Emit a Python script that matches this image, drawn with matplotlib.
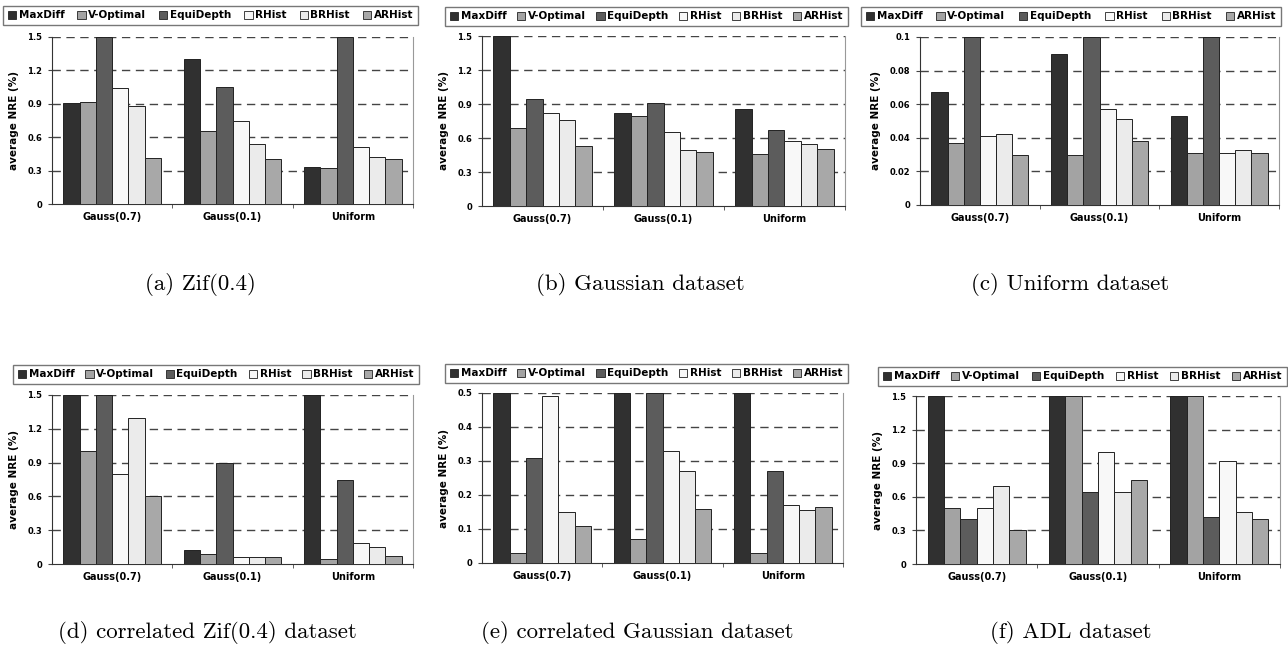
import numpy as np
import matplotlib.pyplot as plt
from matplotlib.patches import Patch

W, H = 1288, 657

methods = ["MaxDiff", "V-Optimal", "EquiDepth", "RHist", "BRHist", "ARHist"]
colors = ["#303030", "#a3a3a3", "#5c5c5c", "#f8f8f8", "#ebebeb", "#a8a8a8"]
categories = ["Gauss(0.7)", "Gauss(0.1)", "Uniform"]

# values per panel: rows = categories, cols = methods (bars above ymax are clipped)
zif = [[0.91, 0.92, 1.5, 1.04, 0.88, 0.41],
       [1.30, 0.66, 1.05, 0.75, 0.54, 0.40],
       [0.33, 0.32, 1.5, 0.51, 0.42, 0.40]]
gaussian = [[1.5, 0.69, 0.94, 0.82, 0.76, 0.53],
            [0.82, 0.79, 0.91, 0.65, 0.49, 0.48],
            [0.86, 0.46, 0.67, 0.57, 0.55, 0.50]]
uniform = [[0.067, 0.037, 0.1, 0.041, 0.042, 0.030],
           [0.090, 0.030, 0.1, 0.057, 0.051, 0.038],
           [0.053, 0.031, 0.1, 0.031, 0.033, 0.031]]
corr_zif = [[1.5, 1.0, 1.5, 0.80, 1.30, 0.60],
            [0.12, 0.09, 0.90, 0.06, 0.06, 0.06],
            [1.5, 0.04, 0.75, 0.19, 0.15, 0.07]]
corr_gauss = [[0.5, 0.03, 0.31, 0.49, 0.15, 0.11],
              [0.5, 0.07, 0.5, 0.33, 0.27, 0.16],
              [0.5, 0.03, 0.27, 0.17, 0.155, 0.165]]
adl = [[1.5, 0.50, 0.40, 0.50, 0.70, 0.30],
       [1.5, 1.5, 0.64, 1.0, 0.64, 0.75],
       [1.5, 1.5, 0.42, 0.92, 0.46, 0.40]]

yticks_15 = [0, 0.3, 0.6, 0.9, 1.2, 1.5]
yticks_01 = [0, 0.02, 0.04, 0.06, 0.08, 0.1]
yticks_05 = [0, 0.1, 0.2, 0.3, 0.4, 0.5]
ytl_15 = ["0", "0.3", "0.6", "0.9", "1.2", "1.5"]
ytl_01 = ["0", "0.02", "0.04", "0.06", "0.08", "0.1"]
ytl_05 = ["0", "0.1", "0.2", "0.3", "0.4", "0.5"]

# (data, yticks, ticklabels, axes px box [left, top, right, bottom], legend px box, caption, caption px pos)
panels = [
    (zif, yticks_15, ytl_15, (52, 37, 413, 204), (3, 2, 418, 25),
     "(a) Zif(0.4)", (200, 284)),
    (gaussian, yticks_15, ytl_15, (482, 36, 845, 206), (445, 1, 848, 26),
     "(b) Gaussian dataset", (640, 284)),
    (uniform, yticks_01, ytl_01, (920, 37, 1279, 205), (861, 1, 1281, 26),
     "(c) Uniform dataset", (1070, 284)),
    (corr_zif, yticks_15, ytl_15, (52, 395, 413, 564), (13, 358, 419, 384),
     "(d) correlated Zif(0.4) dataset", (207, 633)),
    (corr_gauss, yticks_05, ytl_05, (482, 393, 843, 563), (445, 356, 848, 383),
     "(e) correlated Gaussian dataset", (637, 633)),
    (adl, yticks_15, ytl_15, (916, 396, 1280, 564), (878, 358, 1287, 386),
     "(f) ADL dataset", (1071, 633)),
]

fig = plt.figure(figsize=(W / 100, H / 100), dpi=100)

x = np.arange(len(categories))
bw = 0.135

for data, yt, ytl, box, lbox, caption, cpos in panels:
    l, t, r, b = box
    ax = fig.add_axes([l / W, 1 - b / H, (r - l) / W, (b - t) / H])
    vals = np.array(data)
    ymax = yt[-1]
    for j, m in enumerate(methods):
        ax.bar(x + (j - 2.5) * bw, np.minimum(vals[:, j], ymax), bw, color=colors[j],
               edgecolor="#222222", linewidth=0.7, zorder=3)
    ax.set_xlim(-0.5, 2.5)
    ax.set_ylim(0, ymax)
    ax.set_yticks(yt)
    ax.set_yticklabels(ytl, fontsize=6, fontweight="bold")
    ax.set_xticks(x)
    ax.set_xticklabels(categories, fontsize=7, fontweight="bold")
    ax.tick_params(axis="x", length=0, pad=6)
    ax.set_xticks([0.5, 1.5, 2.5], minor=True)
    ax.tick_params(axis="x", which="minor", length=3, direction="out", color="#444444")
    ax.tick_params(axis="y", length=3, direction="out", pad=4, color="#444444")
    ax.set_ylabel("average NRE (%)", fontsize=7.5, fontweight="bold", labelpad=6)
    for v in yt[1:]:
        ax.axhline(v, color="#444444", linestyle=(0, (6, 4)), linewidth=1.0, zorder=2)
    ax.spines["top"].set_visible(False)
    ax.spines["right"].set_color("#999999")
    ax.spines["left"].set_color("#333333")
    ax.spines["bottom"].set_color("#333333")

    ll, lt, lr, lb = lbox
    handles = [Patch(facecolor=c, edgecolor="#222222", linewidth=0.6, label=m) for m, c in zip(methods, colors)]
    fig.legend(handles=handles, loc="lower left", ncol=6, mode="expand",
               bbox_to_anchor=(ll / W, 1 - lb / H, (lr - ll) / W, (lb - lt) / H),
               fancybox=False, edgecolor="#777777", framealpha=1, borderaxespad=0,
               prop={"size": 7.5, "weight": "bold"}, handlelength=0.8, handleheight=0.8,
               handletextpad=0.25, columnspacing=0.6, borderpad=0.45)

    fig.text(cpos[0] / W, 1 - cpos[1] / H, caption, ha="center", va="center",
             fontsize=16.5, fontfamily="cmr10")

plt.savefig("out.png", dpi=100)
